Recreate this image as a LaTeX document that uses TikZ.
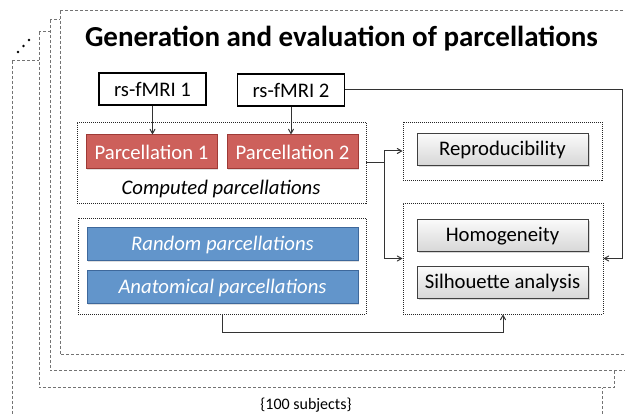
\documentclass[tikz,border=0pt]{standalone}
\usepackage{fontspec}
\setmainfont{Carlito}
\usepackage{tikz}
\usetikzlibrary{positioning}
\usetikzlibrary{arrows}
\usetikzlibrary{shadows}
\definecolor{parcred}{RGB}{205,96,91}
\definecolor{parcredline}{RGB}{158,58,54}
\definecolor{refblue}{RGB}{98,149,203}
\definecolor{refblueline}{RGB}{62,104,155}
\definecolor{framegray}{RGB}{115,115,115}
\tikzset {
        inputnode/.style={align=center,inner sep=0pt, rectangle, draw=black, fill=white, line width=1.4pt, minimum width=107pt, minimum height=32pt, font=\fontsize{20.7}{24}\selectfont},
        parcnode/.style={align=center,inner sep=0pt, rectangle, draw=parcredline, fill=parcred, text=white, line width=1pt, minimum width=131pt, minimum height=34pt, font=\fontsize{20.7}{24}\selectfont, drop shadow={opacity=0.25, shadow xshift=1pt, shadow yshift=-1pt}},
        refnode/.style={align=center,inner sep=0pt, rectangle, draw=refblueline, fill=refblue, text=white, line width=1pt, minimum width=271pt, minimum height=33pt, font=\fontsize{20.7}{24}\selectfont\itshape, drop shadow={opacity=0.25, shadow xshift=1pt, shadow yshift=-1pt}},
        evalnode/.style={align=center,inner sep=0pt, rectangle, draw=black!75, top color=gray!4, bottom color=gray!32, line width=1pt, minimum width=171pt, minimum height=32pt, font=\fontsize{20.7}{24}\selectfont, drop shadow={opacity=0.3, shadow xshift=1.5pt, shadow yshift=-1.5pt}},
        groupbox/.style={rectangle, inner sep=0pt, draw=black!85, fill=white, dash pattern=on 1pt off 1pt, line width=0.8pt},
        subjframe/.style={draw=framegray, fill=white, dash pattern=on 3pt off 2pt, line width=1pt},
        link/.style={draw=black!80, line width=1pt},
        default/.style={}
}

\begin{document}
\begin{tikzpicture}[x=1pt, y=-1pt, >=angle 60]
            \clip (0,0) rectangle (625,414);
            % stacked subject frames, back to front
            \draw[subjframe] (12,61) rectangle (602,440);
            \draw[subjframe] (39,32) rectangle (614,388);
            \draw[subjframe] (50,20) rectangle (640,371);
            \draw[subjframe] (60,11) rectangle (640,355);
            \foreach \dx/\dy in {18/52, 23.5/46, 29/40}
                \fill[black] (\dx,\dy) circle (1.3);
            \node[font=\fontsize{16}{19}\selectfont] (Subjects) at (306,405) {\{100 subjects\}};

            \node[font=\fontsize{29}{33}\selectfont\bfseries, anchor=base] (Title) at (341.5,47) {
                Generation and evaluation of parcellations
            };

            % dotted group boxes
            \node[groupbox, minimum width=289pt, minimum height=81pt] (ComputedBox) at (221.5,162.5) {};
            \node[groupbox, minimum width=288pt, minimum height=96pt] (ReferenceBox) at (222,266) {};
            \node[groupbox, minimum width=199pt, minimum height=58pt] (ReproBox) at (502.5,151) {};
            \node[groupbox, minimum width=200pt, minimum height=111pt] (EvalBox) at (503,258.5) {};

            \node[inputnode] (RsfMRIOne) at (152.5,89) {rs-fMRI 1};
            \node[inputnode] (RsfMRITwo) at (291,90) {rs-fMRI 2};

            \node[parcnode] (ParcOne) at (151.5,152) {Parcellation 1};
            \node[parcnode, right=9pt of ParcOne] (ParcTwo) {Parcellation 2};
            \node[font=\fontsize{20.7}{24}\selectfont\itshape] (ComputedLabel) at (221,189) {Computed parcellations};

            \node[refnode] (RandomParc) at (222.5,244.5) {Random parcellations};
            \node[refnode, below=9pt of RandomParc] (AnatomicalParc) {Anatomical parcellations};

            \node[evalnode] (Reproducibility) at (502.5,150) {Reproducibility};
            \node[evalnode] (Homogeneity) at (502.5,236) {Homogeneity};
            \node[evalnode, below=14pt of Homogeneity] (Silhouette) {Silhouette analysis};

            % connectors
            \coordinate (Split) at (384,162.5);
            \coordinate (RightRail) at (622,258.5);
            \draw[link,->] (RsfMRIOne.south) -- (RsfMRIOne.south |- ParcOne.north);
            \draw[link,->] (RsfMRITwo.south) -- (RsfMRITwo.south |- ParcTwo.north);
            \draw[link] (ComputedBox.east) -- (Split);
            \draw[link,->] (Split) |- (ReproBox.west);
            \draw[link,->] (Split) |- (EvalBox.west);
            \draw[link,->] (RsfMRITwo.east) -| (RightRail) -- (EvalBox.east);
            \draw[link,->] (ReferenceBox.south) -- ++(0,18) -| (EvalBox.south);
        \end{tikzpicture}
\end{document}
